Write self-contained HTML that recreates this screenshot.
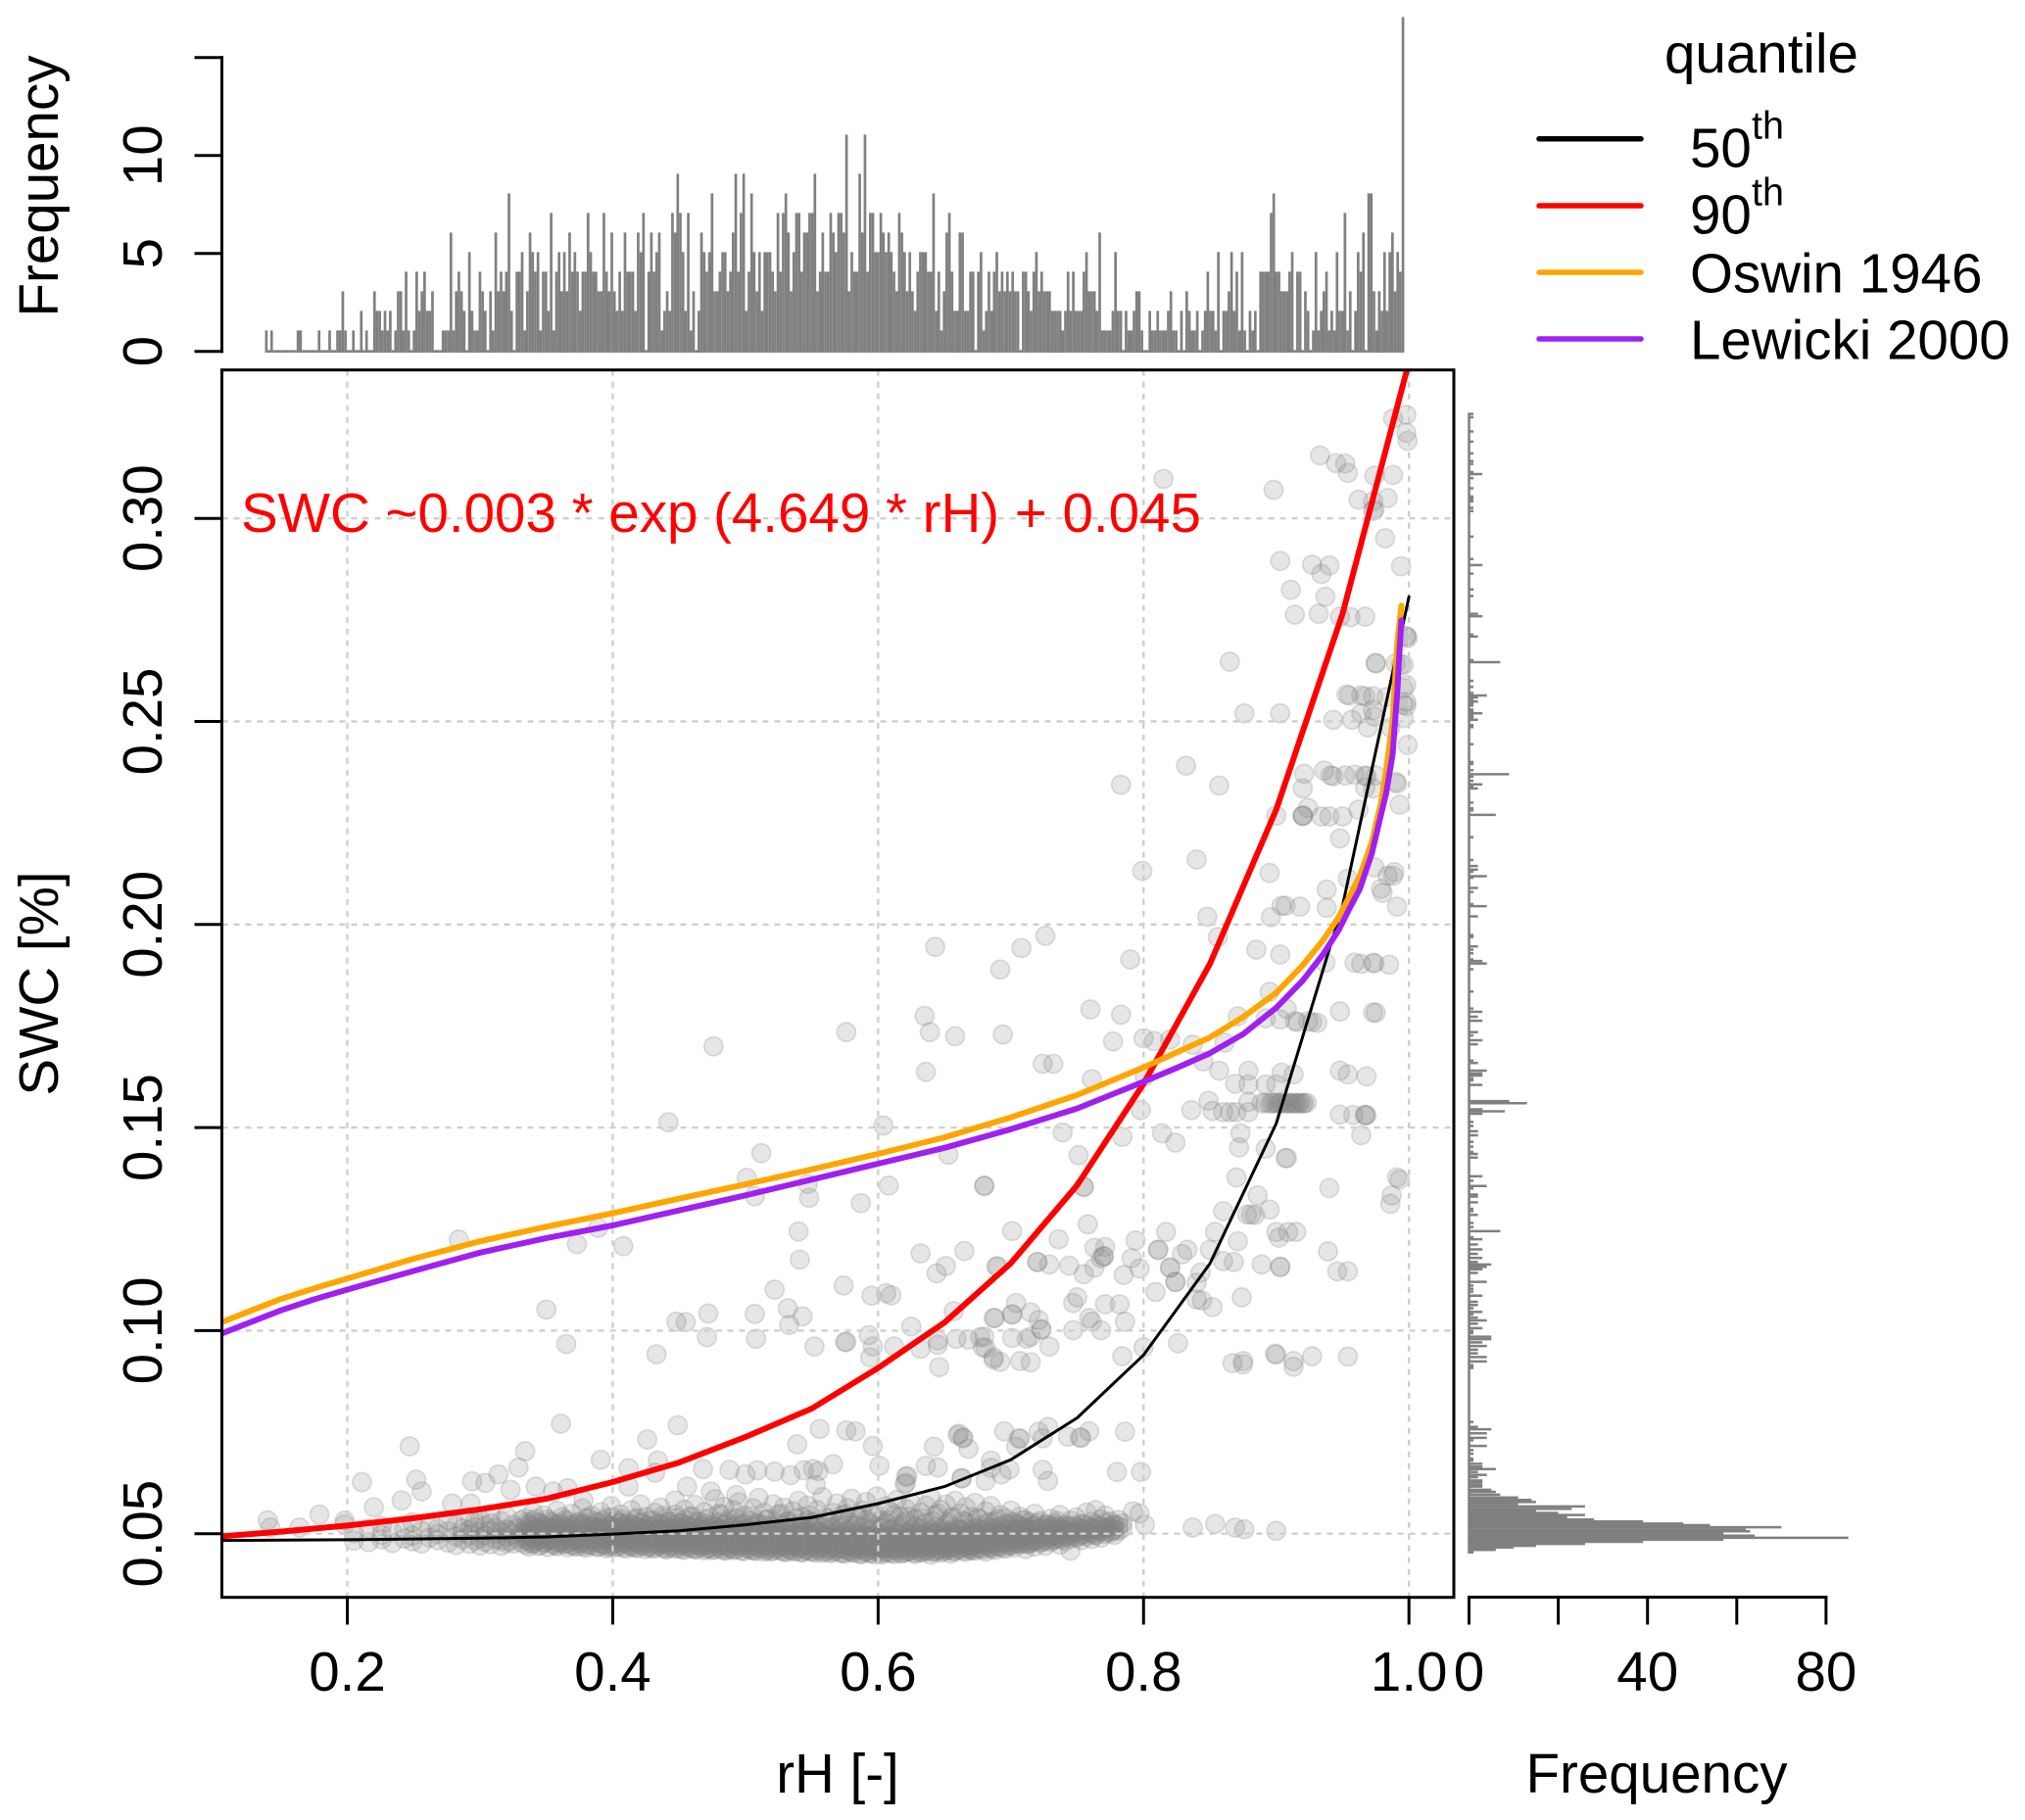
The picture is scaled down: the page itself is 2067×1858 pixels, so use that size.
<!DOCTYPE html>
<html lang="en">
<head>
<meta charset="utf-8">
<title>SWC vs rH scatter with marginal histograms</title>
<style>
html,body{margin:0;padding:0;background:#fff;}
svg{display:block;font-family:"Liberation Sans",sans-serif;}
</style>
</head>
<body>
<svg id="chart" xmlns="http://www.w3.org/2000/svg" width="2067" height="1858" viewBox="0 0 2067 1858">
<defs><clipPath id="plot-clip"><rect x="226.5" y="377.7" width="1257.5" height="1253"/></clipPath></defs>
<rect x="0" y="0" width="2067" height="1858" fill="#fff"/>
<g id="top-hist"></g>
<g id="right-hist"></g>
<g id="points"></g>
<g id="grid"></g>
<g id="curves" clip-path="url(#plot-clip)"></g>
<rect x="226.5" y="377.7" width="1257.5" height="1253" fill="none" stroke="#000" stroke-width="3"/>
<g id="axes"></g>
<text x="246" y="543" font-size="56.5" fill="#ff0000">SWC ~0.003 * exp (4.649 * rH) + 0.045</text>
<text transform="translate(59,190) rotate(-90)" text-anchor="middle" font-size="56.5">Frequency</text>
<text transform="translate(59,1004) rotate(-90)" text-anchor="middle" font-size="56.5">SWC [%]</text>
<text x="855" y="1830" text-anchor="middle" font-size="56.5">rH [-]</text>
<text x="1691" y="1830" text-anchor="middle" font-size="56.5">Frequency</text>
<g>
<text x="1699" y="74" font-size="56.5">quantile</text>
<line x1="1571" y1="141.7" x2="1675" y2="141.7" stroke="#000" stroke-width="5.5" stroke-linecap="round"/>
<line x1="1571" y1="210" x2="1675" y2="210" stroke="#ff0000" stroke-width="5.5" stroke-linecap="round"/>
<line x1="1571" y1="278" x2="1675" y2="278" stroke="#ffa500" stroke-width="5.5" stroke-linecap="round"/>
<line x1="1571" y1="346" x2="1675" y2="346" stroke="#a020f0" stroke-width="5.5" stroke-linecap="round"/>
<text x="1725" y="170.7" font-size="56.5">50</text>
<text x="1788" y="141.7" font-size="39.5">th</text>
<text x="1725" y="238.7" font-size="56.5">90</text>
<text x="1788" y="209.7" font-size="39.5">th</text>
<text x="1725" y="298.5" font-size="56.5">Oswin 1946</text>
<text x="1725" y="366.7" font-size="56.5">Lewicki 2000</text>
</g>
</svg>
<script>
// ---- tick labels / categories ----
const xTicks = [0.2, 0.4, 0.6, 0.8, 1.0];
const yTicks = [0.05, 0.10, 0.15, 0.20, 0.25, 0.30];
const topTicks = [0, 5, 10, 15];
const topTickLabels = ["0", "5", "10", ""];
const rightTicks = [0, 20, 40, 60, 80];
const rightTickLabels = ["0", "", "40", "", "80"];
const topBinFirst = 0.139;
const topBinLast = 0.9955;

// ---- histogram of rH (top margin) ----
const topCounts = [1,0,1,0,0,0,0,0,0,0,0,0,1,1,0,0,0,0,0,0,1,0,0,0,1,0,0,1,1,3,1,0,0,1,0,0,2,0,1,0,0,3,2,2,1,2,1,2,0,1,3,3,1,4,1,0,1,4,2,3,4,2,2,3,0,0,0,1,1,1,6,1,3,4,3,2,0,5,2,1,1,4,3,2,0,3,1,6,3,4,3,4,8,2,0,4,4,5,1,3,6,5,4,5,1,4,4,2,7,1,4,5,3,5,3,6,4,5,4,2,4,4,7,5,4,4,3,3,7,4,3,6,3,2,4,2,6,4,4,4,2,6,5,7,0,4,6,4,5,6,1,2,3,2,7,6,9,7,5,2,7,1,3,0,2,6,5,4,5,8,3,3,4,5,5,3,4,6,9,4,7,9,2,4,8,5,3,5,2,5,5,5,4,3,7,4,
7,8,6,3,5,7,7,4,6,6,7,7,9,3,4,6,4,4,7,6,5,7,7,6,11,3,5,4,4,9,6,11,4,7,7,5,5,7,6,5,6,5,4,3,7,6,5,3,5,3,2,4,5,5,5,4,4,8,2,4,1,3,6,7,4,2,2,6,6,2,2,4,4,0,4,5,1,2,4,2,4,5,3,4,3,4,3,4,3,3,0,4,4,3,2,4,5,3,4,3,3,3,2,2,2,2,1,2,4,2,4,2,2,2,4,5,3,3,3,2,6,1,1,1,1,2,5,2,2,0,2,1,1,2,3,3,1,0,0,2,1,1,2,1,1,1,2,3,1,1,0,2,0,3,2,1,1,2,0,1,2,4,2,2,1,5,0,2,2,3,5,2,4,1,5,1,0,2,1,2,0,4,4,4,4,7,8,4,4,3,3,3,4,5,0,4,4,0,3,2,0,1,5,1,2,3,4,1,2,1,5,2,2,7,1,3,0,2,5,4,6,0,8,8,3,1,3,2,5,2,5,6,3,5,4,17];

// ---- histogram of SWC (right margin) ----
const rightBinSWC = [.3257,.3249,.3214,.3189,.3160,.3141,.3134,.3114,.3109,.3099,.3074,.3054,.3048,.3042,.3026,.3018,.2955,.2900,.2885,.2864,.2825,.2809,.2765,.2759,.2714,.2709,.2651,.2646,.2600,.2585,.2570,.2564,.2559,.2553,.2549,.2544,.2539,.2529,.2525,.2520,.2514,.2509,.2504,.2491,.2486,.2444,.2400,.2395,.2380,.2370,.2364,.2354,.2345,.2339,.2335,.2300,.2286,.2281,.2270,.2215,.2159,.2144,.2135,.2130,.2119,.2115,.2090,.2080,.2050,.2045,.2020,.1974,.1969,.1946,.1938,.1929,.1914,.1910,.1904,.1890,.1835,.1793,.1785,.1773,.1763,.1735,.1727,.1715,.1705,.1665,.1659,.1640,.1633,.1628,.1621,.1616,.1605,.1565,.1560,.1545,.1540,.1534,.1514,.1504,.1491,.1481,.1465,.1453,.1440,.1435,.1426,.1380,.1369,.1356,.1350,.1335,.1330,.1316,.1300,.1294,.1285,.1265,.1255,.1245,.1230,.1225,.1212,.1200,.1189,.1179,.1169,.1163,.1157,.1151,.1142,.1120,.1111,.1103,.1096,.1086,.1071,.1063,.1055,.1046,.1040,.1032,.1025,.1017,.1006,.0999,.0994,.0985,.0979,.0971,.0962,.0953,.0944,.0935,.0924,.0915,.0911,.0908,.0775,.0763,.0757,.0747,.0736,.0730,.0716,.0706,.0697,.0685,.0680,.0672,.0665,.0659,.0652,.0645,.0639,.0631,.0626,.0620,.0616,.0608,.0603,.0596,.0589,.0583,.0578,.0573,.0567,.0561,.0556,.0551,.0546,.0541,.0535,.0530,.0525,.0521,.0516,.0510,.0506,.0500,.0495,.0490,.0485,.0480,.0475,.0470,.0466,.0460,.0454];
const rightBinCount = [1,1,1,1,1,1,1,1,3,1,1,1,1,1,1,1,1,1,3,1,1,1,2,3,1,2,1,7,1,1,1,4,2,1,2,1,1,1,1,3,1,1,2,1,1,1,1,1,1,9,1,1,3,1,2,1,1,1,6,1,1,2,2,1,4,1,2,1,1,4,2,1,1,2,1,1,1,3,4,1,1,1,3,2,3,2,1,3,2,1,2,4,3,3,1,1,3,9,13,3,8,3,1,1,2,2,1,1,1,2,2,3,1,4,1,2,2,2,1,1,2,1,1,7,1,3,2,3,2,3,2,5,4,3,2,4,1,1,1,3,2,2,1,3,1,2,4,2,3,1,1,5,5,3,4,2,2,4,4,1,1,1,1,2,5,4,4,1,4,1,1,1,1,3,3,6,2,4,2,3,3,3,3,5,6,7,11,14,15,11,26,23,15,20,26,22,28,39,48,54,70,62,63,57,64,85,57,39,26,15,10,6,1];

// ---- scatter: sparse observations above the dense band ----
const pointRH = [.948,.840,.799,.895,.974,.989,.988,.984,.954,.938,.980,.979,.991,.938,.918,.907,.904,.896,.848,.856,.726,.708,.692,.790,.885,.903,.959,.964,.973,.974,.985,.937,.895,.760,.783,.694,.948,.973,.975,.871,.892,.903,.914,.924,.931,.927,.916,.908,.777,.800,.808,.820,.837,.861,.724,.732,.761,.845,.857,.879,.904,.913,.948,.954,.968,.869,.879,.892,.900,.801,.798,.836,.849,.852,.860,.865,.870,.879,.879,
.889,.892,.895,.897,.899,.901,.903,.904,.906,.908,.909,.911,.912,.914,.915,.917,.918,.920,.921,.923,
.948,.958,.967,.967,.968,.964,.739,.784,.814,.824,.873,.872,.892,.907,.908,.751,.680,.755,.755,.870,.940,.991,.993,.987,.986,.886,.895,.860,.878,.881,.884,.701,.758,.736,.817,.794,.854,.900,.909,.915,.902,.871,.939,.811,.811,.833,.829,.771,.763,.770,.770,.768,.791,.850,.860,.868,.889,.903,.903,.690,.720,.720,.729,.744,.763,.755,.797,.785,.820,.820,.824,.824,.843,.840,.809,.840,.844,.852,.874,.946,.954,.750,.747,.771,.782,.704,.701,.701,.688,.715,.759,.761,.786,.768,.747,.723,.723,.721,.701,.712,.715,.729,.680,.681,.687,.692,.707,.715,.784,.826,.800,.867,.875,.875,.899,.900,.913,.913,.927,.954,
.998,.988,.998,.999,.933,.945,.952,.954,.974,.988,.815,.898,.962,.973,.984,.974,.973,.982,.903,.927,.940,.934,.994,.911,.937,.914,.932,.948,.956,.967,.998,.999,.998,.865,.975,.975,.990,.994,.996,.998,.996,.953,.955,.964,.967,.973,.983,.998,.996,.998,.964,.973,.974,.876,.903,.943,.957,.969,.986,.999,.996,.832,.783,.857,.921,.936,.941,.943,.952,.959,.967,.968,.975,.967,.973,.991,.990,.920,.993,.924,.920,.920,.920,.900,.934,.940,.950,.962,
.442,.604,.512,.653,.501,.608,.680,.547,.507,.548,.284,.389,.373,.408,.587,.540,.541,.632,.665,.651,.644,.689,.574,.522,.595,.606,.610,.350,.448,.455,.472,.507,.532,.543,.533,.657,.687,.625,.471,.508,.593,.575,.576,.645,.659,.668,.677,.365,.433,.552,.596,.612,.632,.645,.594,.646,.679,.687,.361,.449,.426,.556,.576,.583,.539,.596,.642,.661,.664,.668,.247,.334,.329,.391,.412,.434,.468,.488,.500,.509,.522,.534,.544,.551,.555,.566,.601,.553,.622,.636,.645,.663,.685,.211,.252,.314,.294,.304,.256,.241,.323,.342,.355,.366,.432,.412,.220,.179,.140,.142,.164,.198,.198,.279,.293,.621,.456,.474,.378,.493,
.476,.576,.643,.635,.639,.636,.658,
.780,.798,.837,.854,.869,.876,.900,.801,.797,.792,.724,.728,.699,.693,.681,.685,.663,.621,.620,.660,.664,.695,.706,.707,.704,.721,.724,.728,.743,.752,.753,.759,.786];
const pointSWC = [.2212,.2160,.2132,.2127,.2141,.2129,.2120,.2120,.2113,.2086,.2078,.2088,.2044,.2041,.2044,.2046,.2046,.2018,.2019,.1969,.1972,.1942,.1889,.1914,.1938,.1926,.1906,.1903,.1905,.1905,.1901,.1906,.1834,.1791,.1778,.1729,.1786,.1783,.1783,.1774,.1769,.1766,.1762,.1762,.1758,.1760,.1760,.1792,.1712,.1720,.1713,.1717,.1704,.1709,.1657,.1657,.1619,.1663,.1640,.1640,.1635,.1631,.1640,.1631,.1626,.1608,.1606,.1606,.1606,.1626,.1543,.1543,.1566,.1541,.1538,.1538,.1538,.1538,.1563,
.1560,.1561,.1559,.1560,.1561,.1559,.1560,.1561,.1559,.1560,.1561,.1559,.1560,.1561,.1559,.1560,.1561,.1559,.1560,.1561,
.1532,.1531,.1531,.1531,.1530,.1481,.1488,.1477,.1486,.1463,.1486,.1451,.1448,.1425,.1425,.1432,.1356,.1354,.1354,.1377,.1351,.1377,.1372,.1333,.1312,.1333,.1298,.1294,.1286,.1286,.1285,.1245,.1262,.1225,.1243,.1222,.1243,.1243,.1243,.1243,.1229,.1220,.1195,.1199,.1199,.1199,.1188,.1206,.1204,.1183,.1183,.1178,.1178,.1199,.1171,.1169,.1163,.1157,.1157,.1158,.1169,.1169,.1163,.1160,.1155,.1139,.1153,.1137,.1155,.1155,.1120,.1120,.1143,.1118,.1095,.1077,.1074,.1058,.1082,.1146,.1146,.1082,.1068,.1065,.1065,.1068,.1040,.1040,.1031,.1045,.1031,.1022,.1022,.1001,.1001,.1003,.1003,.1026,.0982,.0980,.0985,.0961,.0985,.0957,.0934,.0923,.0925,.0922,.0937,.0969,.0959,.0920,.0925,.0917,.0943,.0941,.0925,.0911,.0937,.0936,
.3255,.3246,.3211,.3191,.3155,.3136,.3135,.3112,.3105,.3107,.3097,.3070,.3046,.3042,.3050,.3022,.3018,.2951,.2895,.2886,.2884,.2863,.2882,.2824,.2807,.2763,.2765,.2758,.2757,.2758,.2710,.2705,.2709,.2647,.2644,.2643,.2643,.2640,.2640,.2590,.2582,.2566,.2564,.2564,.2562,.2562,.2560,.2548,.2541,.2538,.2520,.2528,.2512,.2520,.2520,.2504,.2504,.2485,.2485,.2442,.2508,.2391,.2344,.2342,.2371,.2379,.2367,.2365,.2367,.2369,.2367,.2365,.2367,.2337,.2335,.2347,.2351,.2335,.2295,.2287,.2268,.2268,.2267,.2268,.2266,.2266,.2266,.2283,
.1513,.1505,.1437,.1433,.1376,.1357,.1357,.1361,.1331,.1327,.1224,.1253,.1213,.1208,.1314,.1244,.1175,.1190,.1196,.1159,.1141,.1158,.1111,.1101,.1086,.1092,.1087,.1052,.1022,.1021,.1042,.1041,.1055,.1035,.1014,.1048,.1031,.1010,.0984,.0980,.0989,.0972,.0972,.0976,.0980,.0978,.0984,.0967,.0942,.0961,.0961,.0961,.0955,.0965,.0934,.0910,.0959,.0929,.0771,.0767,.0732,.0758,.0754,.0752,.0720,.0716,.0714,.0746,.0735,.0709,.0715,.0703,.0663,.0682,.0661,.0680,.0659,.0657,.0646,.0656,.0653,.0644,.0656,.0659,.0654,.0671,.0667,.0620,.0642,.0667,.0663,.0637,.0680,.0627,.0633,.0646,.0629,.0625,.0604,.0582,.0608,.0616,.0604,.0612,.0650,.0616,.0565,.0547,.0533,.0515,.0515,.0532,.0523,.0574,.0574,.0625,.0616,.0604,.0582,.0595,
.1700,.1735,.1945,.1775,.1735,.1637,.1725,
.0652,.0652,.0515,.0524,.0515,.0511,.0507,.0522,.0550,.0555,.0657,.0630,.0658,.0646,.0630,.0662,.0636,.0640,.0622,.0743,.0737,.0752,.0735,.0734,.0714,.0751,.0735,.0763,.0739,.0737,.0736,.0752,.0751];

// ---- scatter: dense band, each row is [rH, SWC, SWC, ...] ----
const bandColumns = [
[.205,.0483,.0501],[.216,.0479,.0513],[.226,.0486,.0497,.0519],[.234,.0477,.0504],[.243,.0488,.0511],[.249,.0481,.0495,.0528],[.256,.0476,.0507],[.262,.0490,.0516],[.268,.0484,.0499,.0512],[.276,.0478,.0506,.0533],[.282,.0472,.0493,.0521],[.287,.0486,.0502,.0513],
[.292,.0475,.0497,.0509,.0541],[.296,.0483,.0516,.0528],[.300,.0471,.0489,.0504,.0536],[.304,.0480,.0496,.0519],[.308,.0474,.0508,.0525,.0547],[.312,.0486,.0499,.0514],[.316,.0470,.0483,.0505,.0531],[.320,.0477,.0493,.0511,.0543],
[.334,.0473,.0489,.0502,.0516,.0538],[.337,.0468,.0481,.0496,.0509,.0523],[.340,.0476,.0491,.0505,.0531,.0552],[.344,.0470,.0485,.0499,.0513,.0527],[.348,.0479,.0494,.0507,.0520,.0545],[.351,.0467,.0483,.0501,.0515,.0535],[.355,.0474,.0489,.0503,.0510,.0526],[.358,.0469,.0478,.0496,.0518,.0556],[.362,.0481,.0492,.0506,.0522,.0541],[.366,.0466,.0476,.0499,.0512,.0531],[.369,.0472,.0487,.0502,.0517,.0549],[.373,.0468,.0484,.0494,.0508,.0526],[.377,.0478,.0491,.0505,.0521,.0562],[.380,.0465,.0475,.0498,.0513,.0537],[.384,.0471,.0486,.0503,.0518,.0544],[.388,.0467,.0481,.0495,.0509,.0529],[.391,.0476,.0490,.0501,.0515,.0553],[.395,.0464,.0473,.0497,.0511,.0524,.0539],[.399,.0470,.0485,.0504,.0519,.0568],[.402,.0466,.0479,.0493,.0507,.0533],
[.406,.0474,.0488,.0500,.0514,.0527,.0547],[.410,.0463,.0477,.0496,.0510,.0522],[.414,.0469,.0483,.0505,.0518,.0558],[.417,.0465,.0480,.0492,.0506,.0536],[.421,.0472,.0487,.0501,.0513,.0526,.0572],[.425,.0462,.0476,.0497,.0511,.0541],[.428,.0468,.0484,.0503,.0517,.0531],[.432,.0464,.0479,.0491,.0508,.0551],[.436,.0473,.0486,.0499,.0512,.0523,.0564],[.440,.0461,.0475,.0495,.0509,.0538],[.443,.0467,.0482,.0502,.0516,.0529],[.447,.0463,.0478,.0490,.0505,.0547,.0582],[.451,.0471,.0485,.0498,.0513,.0526],[.454,.0460,.0474,.0494,.0507,.0534,.0559],[.458,.0466,.0481,.0501,.0515,.0543],[.462,.0462,.0477,.0489,.0504,.0521,.0571],[.465,.0470,.0484,.0497,.0511,.0530],[.469,.0459,.0473,.0493,.0508,.0524,.0553],[.473,.0465,.0480,.0500,.0514,.0539],[.477,.0461,.0476,.0488,.0503,.0518,.0585],[.480,.0469,.0483,.0496,.0510,.0527,.0549],[.484,.0458,.0472,.0492,.0506,.0522,.0566],[.488,.0464,.0479,.0499,.0513,.0535],[.491,.0460,.0475,.0487,.0502,.0519,.0558],[.495,.0468,.0482,.0495,.0509,.0528,.0577],[.499,.0457,.0471,.0491,.0505,.0523,.0544],[.503,.0463,.0478,.0498,.0512,.0532],[.506,.0459,.0474,.0486,.0501,.0517,.0562],[.510,.0467,.0481,.0494,.0508,.0525,.0588],[.514,.0456,.0470,.0490,.0504,.0520,.0551],
[.517,.0462,.0477,.0497,.0511,.0536],[.521,.0458,.0473,.0485,.0500,.0516,.0572],[.525,.0466,.0480,.0493,.0507,.0524,.0547],[.529,.0455,.0469,.0489,.0503,.0519,.0564],[.532,.0461,.0476,.0496,.0510,.0531],[.536,.0457,.0472,.0484,.0499,.0515,.0555],[.540,.0465,.0479,.0492,.0506,.0523,.0581],[.543,.0454,.0468,.0488,.0502,.0518,.0541],[.547,.0460,.0475,.0495,.0509,.0533,.0569],[.551,.0456,.0471,.0483,.0498,.0514,.0528],[.554,.0464,.0478,.0491,.0505,.0522,.0558],[.558,.0453,.0467,.0487,.0501,.0517,.0590],[.562,.0459,.0474,.0494,.0508,.0537],[.566,.0455,.0470,.0482,.0497,.0513,.0551],[.569,.0463,.0477,.0490,.0504,.0521,.0574],[.573,.0452,.0466,.0486,.0500,.0516,.0545],[.577,.0458,.0473,.0493,.0507,.0529,.0563],[.580,.0454,.0469,.0481,.0496,.0512,.0586],[.584,.0462,.0476,.0489,.0503,.0520,.0540],[.588,.0450,.0465,.0485,.0499,.0515,.0557],[.591,.0457,.0472,.0492,.0506,.0534,.0578],[.595,.0453,.0468,.0480,.0495,.0511,.0548],[.599,.0461,.0475,.0488,.0502,.0519,.0592],[.602,.0449,.0464,.0484,.0498,.0514,.0532],[.606,.0456,.0471,.0491,.0505,.0527,.0567],[.610,.0452,.0467,.0479,.0494,.0510,.0553],[.614,.0460,.0474,.0487,.0501,.0518,.0583],[.617,.0451,.0463,.0483,.0497,.0513,.0542],
[.621,.0455,.0470,.0490,.0504,.0530,.0561],[.625,.0458,.0466,.0478,.0493,.0509,.0575],[.628,.0450,.0473,.0486,.0500,.0517,.0536],[.632,.0454,.0462,.0482,.0496,.0512,.0552],[.636,.0459,.0469,.0489,.0503,.0525,.0569],[.640,.0448,.0465,.0477,.0492,.0508,.0587],[.643,.0456,.0472,.0485,.0499,.0516,.0544],[.647,.0453,.0461,.0481,.0495,.0511,.0559],[.651,.0460,.0468,.0488,.0502,.0523,.0572],[.655,.0451,.0464,.0476,.0491,.0507,.0538],[.658,.0457,.0471,.0484,.0498,.0515,.0581],[.662,.0463,.0474,.0480,.0494,.0510,.0550],[.666,.0455,.0467,.0487,.0501,.0528,.0565],[.670,.0461,.0470,.0479,.0490,.0506,.0541],[.673,.0458,.0473,.0483,.0497,.0514,.0576],[.677,.0464,.0476,.0486,.0493,.0509,.0535],[.681,.0456,.0472,.0489,.0500,.0521,.0555],[.685,.0466,.0478,.0485,.0496,.0505,.0568],[.688,.0460,.0475,.0491,.0503,.0513,.0530],[.692,.0469,.0481,.0488,.0499,.0517,.0546],
[.696,.0463,.0477,.0492,.0506,.0524,.0538],[.700,.0471,.0484,.0495,.0502,.0512,.0557],[.703,.0466,.0479,.0490,.0509,.0526],[.707,.0474,.0487,.0498,.0505,.0519,.0542],[.711,.0462,.0476,.0493,.0508,.0515,.0533],[.714,.0477,.0485,.0501,.0511,.0528],[.718,.0468,.0481,.0496,.0504,.0520,.0549],[.722,.0478,.0489,.0499,.0513,.0531],[.726,.0470,.0483,.0502,.0507,.0522],[.730,.0480,.0492,.0505,.0516,.0537],[.733,.0486,.0497,.0510,.0525],[.737,.0473,.0490,.0503,.0518,.0546],[.741,.0482,.0494,.0508,.0521],[.745,.0458,.0488,.0500,.0513,.0532],[.749,.0491,.0504,.0517,.0540],[.753,.0484,.0497,.0510,.0524],[.757,.0493,.0507,.0519,.0552],[.761,.0487,.0501,.0514,.0529],[.764,.0496,.0509,.0522,.0558],[.768,.0490,.0505,.0516,.0535],[.771,.0499,.0512,.0527,.0545],[.775,.0503,.0516,.0530],[.778,.0497,.0510,.0522],[.781,.0507,.0519,.0534],[.784,.0513,.0526]
];

// ---- scatter: extra observations filling the darkest part of the band, [rH, SWC, ...] ----
const bandCoreColumns = [
[.322,.0482,.0507],[.325,.0476,.0498,.0521],[.328,.0488,.0512],[.331,.0479,.0503,.0533],
[.335,.0484,.0495,.0510,.0528],[.339,.0475,.0490,.0506,.0519],[.342,.0481,.0497,.0512,.0536],[.346,.0472,.0487,.0503,.0524],[.349,.0478,.0493,.0509,.0517],[.353,.0485,.0499,.0514,.0530],[.357,.0471,.0483,.0505,.0521],[.360,.0477,.0491,.0511,.0526],[.364,.0474,.0486,.0500,.0515,.0534],[.368,.0480,.0495,.0508,.0522],[.371,.0470,.0484,.0502,.0518],[.375,.0476,.0489,.0506,.0529],[.378,.0469,.0482,.0497,.0513,.0524],[.382,.0473,.0488,.0504,.0519,.0538],[.386,.0479,.0492,.0507,.0516],[.389,.0468,.0483,.0499,.0511,.0527],
[.393,.0472,.0486,.0501,.0514,.0532],[.397,.0467,.0480,.0494,.0508,.0521],[.400,.0475,.0489,.0503,.0517,.0541],[.404,.0469,.0481,.0497,.0510,.0525],[.408,.0466,.0478,.0492,.0506,.0519,.0535],[.412,.0473,.0487,.0500,.0513,.0528],[.415,.0468,.0482,.0495,.0509,.0522],[.419,.0465,.0476,.0490,.0504,.0516,.0539],[.423,.0471,.0485,.0498,.0512,.0526],[.426,.0467,.0479,.0493,.0507,.0520],[.430,.0464,.0475,.0488,.0502,.0515,.0533],[.434,.0470,.0483,.0496,.0510,.0524],[.438,.0466,.0477,.0491,.0505,.0518,.0544],[.441,.0463,.0474,.0486,.0500,.0513,.0529],[.445,.0469,.0481,.0494,.0508,.0522],[.449,.0465,.0476,.0489,.0503,.0516,.0537],[.452,.0462,.0473,.0484,.0498,.0511,.0525],[.456,.0468,.0480,.0493,.0506,.0520],[.460,.0464,.0475,.0487,.0501,.0514,.0542],[.463,.0461,.0472,.0483,.0496,.0509,.0527],
[.467,.0467,.0478,.0491,.0504,.0518],[.471,.0463,.0474,.0486,.0499,.0512,.0535],[.475,.0460,.0471,.0482,.0494,.0507,.0523],[.478,.0466,.0477,.0489,.0502,.0516],[.482,.0462,.0473,.0485,.0497,.0510,.0547],[.486,.0459,.0470,.0481,.0492,.0505,.0528],[.489,.0465,.0476,.0488,.0500,.0514],[.493,.0461,.0472,.0483,.0495,.0508,.0538],[.497,.0458,.0469,.0480,.0490,.0503,.0521],[.501,.0464,.0475,.0486,.0498,.0512],[.505,.0460,.0471,.0482,.0493,.0506,.0543],[.508,.0457,.0468,.0479,.0488,.0501,.0526],[.512,.0463,.0474,.0485,.0496,.0510],[.516,.0459,.0470,.0481,.0491,.0504,.0534],[.519,.0456,.0467,.0478,.0487,.0499,.0520],[.523,.0462,.0473,.0484,.0494,.0508],[.527,.0458,.0469,.0480,.0489,.0502,.0549],[.531,.0455,.0466,.0477,.0486,.0497,.0529],[.534,.0461,.0472,.0483,.0492,.0506],[.538,.0457,.0468,.0479,.0488,.0500,.0537],
[.542,.0454,.0465,.0476,.0485,.0495,.0518],[.545,.0460,.0471,.0482,.0490,.0504],[.549,.0456,.0467,.0478,.0487,.0498,.0545],[.553,.0453,.0464,.0475,.0484,.0493,.0525],[.556,.0459,.0470,.0481,.0489,.0502],[.560,.0455,.0466,.0477,.0486,.0496,.0540],[.564,.0452,.0463,.0474,.0483,.0491,.0516],[.568,.0458,.0469,.0480,.0488,.0500],[.571,.0454,.0465,.0476,.0485,.0494,.0531],[.575,.0451,.0462,.0473,.0482,.0490,.0548],[.579,.0457,.0468,.0479,.0487,.0498],[.582,.0453,.0464,.0475,.0484,.0492,.0522],[.586,.0450,.0461,.0472,.0481,.0489,.0539],[.590,.0456,.0467,.0478,.0486,.0496],[.593,.0452,.0463,.0474,.0483,.0491,.0528],[.597,.0449,.0460,.0471,.0480,.0488,.0551],[.601,.0455,.0466,.0477,.0485,.0494],[.604,.0451,.0462,.0473,.0482,.0490,.0519],[.608,.0454,.0465,.0476,.0484,.0493,.0534],[.612,.0450,.0461,.0472,.0481,.0489,.0546],
[.616,.0456,.0467,.0478,.0486,.0497],[.619,.0452,.0463,.0474,.0483,.0492,.0526],[.623,.0457,.0468,.0479,.0488,.0499,.0542],[.627,.0453,.0464,.0475,.0485,.0495],[.630,.0458,.0469,.0480,.0490,.0501,.0523],[.634,.0454,.0465,.0476,.0486,.0496,.0538],[.638,.0459,.0470,.0481,.0491,.0503],[.641,.0455,.0466,.0477,.0487,.0498,.0530],[.645,.0460,.0471,.0482,.0492,.0505,.0549],[.649,.0456,.0467,.0478,.0488,.0500],[.653,.0461,.0472,.0483,.0493,.0507,.0527],[.656,.0457,.0468,.0479,.0489,.0502,.0541],[.660,.0462,.0473,.0484,.0495,.0509],[.664,.0458,.0469,.0480,.0491,.0504,.0532],[.668,.0463,.0474,.0485,.0497,.0511],[.671,.0459,.0470,.0482,.0493,.0506,.0524],[.675,.0465,.0476,.0487,.0499,.0513,.0539],[.679,.0461,.0472,.0484,.0495,.0508],[.683,.0467,.0478,.0489,.0501,.0515,.0528],[.686,.0463,.0474,.0486,.0497,.0510],
[.690,.0469,.0480,.0491,.0503,.0517,.0536],[.694,.0465,.0476,.0488,.0499,.0512],[.698,.0471,.0482,.0493,.0505,.0521],[.701,.0473,.0485,.0496,.0508,.0529],[.705,.0476,.0488,.0499,.0511,.0523],[.709,.0479,.0491,.0502,.0514,.0534],[.713,.0474,.0486,.0500,.0512],[.716,.0482,.0494,.0506,.0518],[.720,.0485,.0497,.0509,.0526],[.724,.0480,.0492,.0504,.0516],[.728,.0488,.0500,.0512,.0522],[.732,.0484,.0496,.0508,.0519],[.735,.0491,.0503,.0515,.0531],[.739,.0487,.0499,.0511],[.743,.0494,.0506,.0518],[.747,.0496,.0508,.0520],[.751,.0492,.0504,.0514],[.755,.0499,.0511,.0523],[.759,.0502,.0513],[.763,.0498,.0510],[.767,.0506,.0518],[.772,.0504,.0515],[.777,.0508,.0521]
];

// ---- fitted curves (rH knot, SWC) ----
const q50RH = [.10,.15,.20,.25,.30,.35,.40,.45,.50,.55,.60,.65,.70,.75,.80,.85,.90,.95,1.0];
const q50SWC = [.0483,.0484,.0485,.0487,.0489,.0492,.0499,.0507,.0522,.0540,.0574,.0616,.0682,.0785,.0940,.1165,.1510,.2046,.2807];
const q90RH = [.10,.15,.20,.25,.30,.35,.40,.45,.50,.55,.60,.65,.70,.75,.80,.85,.90,.95,1.0];
const q90SWC = [.0492,.0505,.0520,.0538,.0560,.0586,.0627,.0675,.0738,.0808,.0908,.1020,.1166,.1358,.1608,.1903,.2283,.2765,.3385];
const oswinRH = [.1054,.125,.15,.175,.20,.25,.30,.35,.40,.45,.50,.55,.60,.65,.70,.75,.80,.825,.85,.875,.90,.92,.935,.947,.955,.963,.972,.979,.9828,.9877,.9914,.9943];
const oswinSWC = [.1021,.1046,.1078,.1104,.1128,.1177,.1220,.1256,.1289,.1325,.1360,.1397,.1435,.1476,.1525,.1580,.1648,.1685,.1722,.1772,.1832,.1900,.1960,.2018,.2068,.2120,.2203,.2300,.2379,.2500,.2700,.2785];
const lewickiRH = [.1054,.125,.15,.175,.20,.25,.30,.35,.40,.45,.50,.55,.60,.65,.70,.75,.80,.825,.85,.875,.90,.92,.935,.947,.955,.963,.972,.98,.9828,.9877,.9914,.9926,.9943];
const lewickiSWC = [.0993,.1018,.1050,.1077,.1101,.1147,.1192,.1228,.1259,.1296,.1333,.1372,.1411,.1450,.1496,.1547,.1613,.1647,.1683,.1730,.1795,.1862,.1925,.1986,.2038,.2088,.2175,.2285,.2323,.2419,.2580,.2660,.2749];

// ---- axis functions ----
function xScale(v){ return 354.5 + (v - 0.2) * 1354.6; }
function yScale(v){ return 1565.7 - (v - 0.05) * 4146; }
function topY(v){ return 358.7 - v * 20; }
function rightX(v){ return 1499.5 + v * 4.555; }

const NS = "http://www.w3.org/2000/svg";
function make(tag, parent, attrs){
  const el = document.createElementNS(NS, tag);
  for (const k in attrs) el.setAttribute(k, attrs[k]);
  parent.appendChild(el);
  return el;
}

// top histogram bars
const topHistG = document.getElementById("top-hist");
topCounts.forEach(function(c, i){
  const rh = topBinFirst + (topBinLast - topBinFirst) * i / (topCounts.length - 1);
  const bar = make("line", topHistG, {x1:xScale(rh), x2:xScale(rh), y1:topY(0), y2:topY(c), stroke:"#808080", "stroke-width":2.7, "stroke-linecap":"square"});
  
  
});

// right histogram
const rightHistG = document.getElementById("right-hist");
const rightBase = make("line", rightHistG, {x1:rightX(0), x2:rightX(0), y1:yScale(Math.max.apply(null, rightBinSWC)), y2:yScale(Math.min.apply(null, rightBinSWC)), stroke:"#808080", "stroke-width":2.6, "stroke-linecap":"square"});


rightBinSWC.forEach(function(s, i){
  const bar = make("line", rightHistG, {x1:rightX(0), x2:rightX(rightBinCount[i]), y1:yScale(s), y2:yScale(s), stroke:"#808080", "stroke-width":2.5, "stroke-linecap":"butt"});
  
  
});

// scatter
const pointsG = document.getElementById("points");
function addPoint(rh, swc){
  const pt = make("circle", pointsG, {cx:xScale(rh), cy:yScale(swc), r:9.6, fill:"rgba(128,128,128,0.2)", stroke:"rgba(128,128,128,0.24)", "stroke-width":1.8});
  
  
}
pointRH.forEach(function(rh, i){ addPoint(rh, pointSWC[i]); });
bandColumns.forEach(function(col){
  col.slice(1).forEach(function(swc){ addPoint(col[0], swc); });
});
bandCoreColumns.forEach(function(col){
  col.slice(1).forEach(function(swc){ addPoint(col[0], swc); });
});

// grid
const gridG = document.getElementById("grid");
yTicks.forEach(function(v){
  const ln = make("line", gridG, {x1:226.5, x2:1484, y1:yScale(v), y2:yScale(v), stroke:"#cfcfcf", "stroke-width":2.4, "stroke-dasharray":"6 6"});
  
  
});
xTicks.forEach(function(v){
  const ln = make("line", gridG, {x1:xScale(v), x2:xScale(v), y1:377.7, y2:1630.7, stroke:"#cfcfcf", "stroke-width":2.4, "stroke-dasharray":"6 6"});
  
  
});

// curves
const curvesG = document.getElementById("curves");
function addCurve(xs, ys, color, width, name){
  const pts = xs.map(function(x, i){ return xScale(x).toFixed(1) + "," + yScale(ys[i]).toFixed(1); }).join(" ");
  const pl = make("polyline", curvesG, {points:pts, fill:"none", stroke:color, "stroke-width":width, "stroke-linejoin":"round", "stroke-linecap":"round"});
  
  
}
addCurve(q50RH, q50SWC, "#000000", 3, "curve-50th-quantile");
addCurve(q90RH, q90SWC, "#ff0000", 6, "curve-90th-quantile");
addCurve(oswinRH, oswinSWC, "#ffa500", 6, "curve-oswin-1946");
addCurve(lewickiRH, lewickiSWC, "#a020f0", 6, "curve-lewicki-2000");

// axes
const axesG = document.getElementById("axes");
function axisLine(x1, y1, x2, y2, name){
  const ln = make("line", axesG, {x1:x1, y1:y1, x2:x2, y2:y2, stroke:"#000", "stroke-width":3, "stroke-linecap":"square"});
  
  
}
function axisLabel(x, y, rotate, txt, name){
  const t = make("text", axesG, {"text-anchor":"middle", "font-size":56.5, transform:"translate(" + x + "," + y + ")" + (rotate ? " rotate(-90)" : "")});
  t.textContent = txt;
  
  
}
xTicks.forEach(function(v){
  axisLine(xScale(v), 1631, xScale(v), 1657, "x-axis-tick");
  axisLabel(xScale(v), 1726, false, v.toFixed(1), "x-axis-tick-label");
});
yTicks.forEach(function(v){
  axisLine(200, yScale(v), 226, yScale(v), "y-axis-tick");
  axisLabel(165, yScale(v), true, v.toFixed(2), "y-axis-tick-label");
});
axisLine(226.5, topY(15), 226.5, topY(0), "top-hist-axis-line");
topTicks.forEach(function(v, i){
  axisLine(200, topY(v), 226, topY(v), "top-hist-tick");
  if (topTickLabels[i]) axisLabel(165, topY(v), true, topTickLabels[i], "top-hist-tick-label");
});
axisLine(rightX(0), 1630.5, rightX(80), 1630.5, "right-hist-axis-line");
rightTicks.forEach(function(v, i){
  axisLine(rightX(v), 1631, rightX(v), 1657, "right-hist-tick");
  if (rightTickLabels[i]) axisLabel(rightX(v), 1726, false, rightTickLabels[i], "right-hist-tick-label");
});
</script>
</body>
</html>
